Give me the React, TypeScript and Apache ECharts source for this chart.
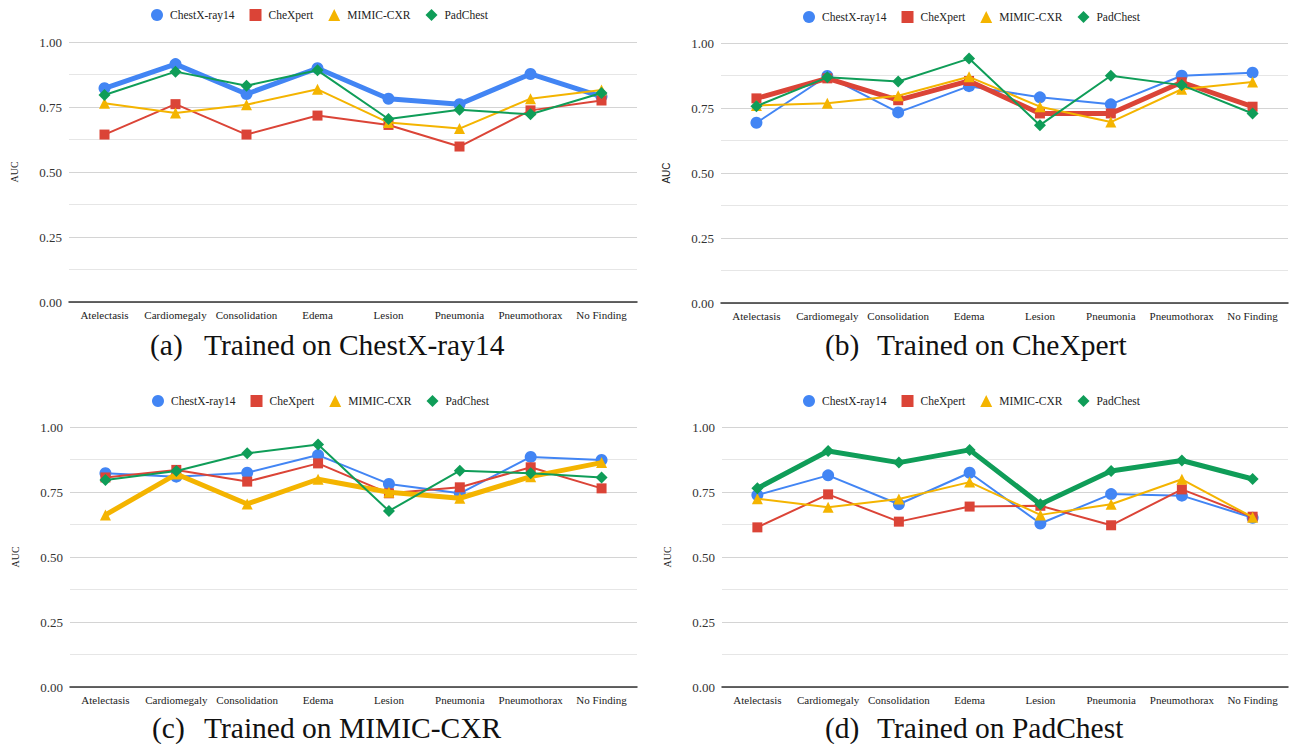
import React, { useEffect, useRef } from "react";
import * as echarts from "echarts";

// ---------- data ----------
const categories = [
  "Atelectasis",
  "Cardiomegaly",
  "Consolidation",
  "Edema",
  "Lesion",
  "Pneumonia",
  "Pneumothorax",
  "No Finding",
];
const testSets = ["ChestX-ray14", "CheXpert", "MIMIC-CXR", "PadChest"];
const yTickValues = [0, 0.25, 0.5, 0.75, 1.0];

// (a) Trained on ChestX-ray14
const aChestX = [0.822, 0.915, 0.8, 0.899, 0.782, 0.761, 0.877, 0.79];
const aCheXpert = [0.644, 0.761, 0.644, 0.717, 0.681, 0.598, 0.737, 0.775];
const aMimic = [0.764, 0.727, 0.759, 0.818, 0.69, 0.667, 0.782, 0.815];
const aPadChest = [0.796, 0.886, 0.832, 0.891, 0.704, 0.739, 0.722, 0.804];

// (b) Trained on CheXpert
const bChestX = [0.693, 0.873, 0.733, 0.834, 0.791, 0.764, 0.874, 0.886];
const bCheXpert = [0.787, 0.864, 0.78, 0.854, 0.729, 0.729, 0.849, 0.755];
const bMimic = [0.76, 0.768, 0.797, 0.87, 0.755, 0.696, 0.822, 0.85];
const bPadChest = [0.757, 0.868, 0.852, 0.94, 0.684, 0.874, 0.838, 0.729];

// (c) Trained on MIMIC-CXR
const cChestX = [0.822, 0.809, 0.824, 0.892, 0.781, 0.745, 0.885, 0.873];
const cCheXpert = [0.806, 0.835, 0.79, 0.86, 0.745, 0.768, 0.845, 0.764];
const cMimic = [0.662, 0.819, 0.704, 0.799, 0.749, 0.726, 0.809, 0.863];
const cPadChest = [0.796, 0.831, 0.899, 0.933, 0.677, 0.832, 0.822, 0.806];

// (d) Trained on PadChest
const dChestX = [0.738, 0.814, 0.703, 0.824, 0.629, 0.742, 0.736, 0.651];
const dCheXpert = [0.614, 0.741, 0.636, 0.694, 0.697, 0.622, 0.76, 0.655];
const dMimic = [0.724, 0.691, 0.723, 0.788, 0.662, 0.703, 0.799, 0.653];
const dPadChest = [0.764, 0.908, 0.863, 0.912, 0.703, 0.831, 0.871, 0.8];

const panelTags = ["(a)", "(b)", "(c)", "(d)"];
const panelTitles = [
  "Trained on ChestX-ray14",
  "Trained on CheXpert",
  "Trained on MIMIC-CXR",
  "Trained on PadChest",
];
const panelSeries = [
  [aChestX, aCheXpert, aMimic, aPadChest],
  [bChestX, bCheXpert, bMimic, bPadChest],
  [cChestX, cCheXpert, cMimic, cPadChest],
  [dChestX, dCheXpert, dMimic, dPadChest],
];
const highlighted = [0, 1, 2, 3];

// ---------- styling / layout ----------
const colors = ["#4285F4", "#DB4437", "#F4B400", "#0F9D58"];
const symbols = ["circle", "rect", "triangle", "diamond"];
const symbolSizes = [12, 10, 11, 12];
const SERIF = "Liberation Serif, Times New Roman, serif";
const SANS = "Liberation Sans, Arial, sans-serif";

const layout = [
  { left: 69, top: 42, width: 568, legendLeft: 146, legendTop: 4, tagX: 150, titleX: 204, capY: 347, aucFont: SERIF },
  { left: 721, top: 43, width: 567, legendLeft: 798, legendTop: 6, tagX: 825, titleX: 877, capY: 347, aucFont: SANS },
  { left: 70, top: 427, width: 567, legendLeft: 147, legendTop: 390, tagX: 152, titleX: 204, capY: 730, aucFont: SERIF },
  { left: 722, top: 427, width: 566, legendLeft: 798, legendTop: 390, tagX: 825, titleX: 877, capY: 730, aucFont: SERIF },
];
const PLOT_H = 260;

export default function App() {
  const ref = useRef<HTMLDivElement>(null);

  useEffect(() => {
    if (!ref.current) return;
    const chart = echarts.init(ref.current, null, { renderer: "svg" });

    const grids = layout.map((l) => ({
      left: l.left,
      top: l.top,
      width: l.width,
      height: PLOT_H,
      containLabel: false,
    }));

    const xAxes = layout.map((_, i) => ({
      type: "category",
      gridIndex: i,
      data: categories,
      boundaryGap: true,
      axisLine: { show: true, lineStyle: { color: "#333", width: 1.5 } },
      axisTick: { show: false },
      axisLabel: {
        interval: 0,
        margin: 7,
        fontFamily: SERIF,
        fontSize: 11,
        color: "#222",
      },
      splitLine: { show: false },
    }));

    const yAxes = layout.map((l, i) => ({
      type: "value",
      gridIndex: i,
      min: yTickValues[0],
      max: yTickValues[yTickValues.length - 1],
      interval: 0.25,
      name: "AUC",
      nameLocation: "middle",
      nameGap: 50,
      nameTextStyle: { fontFamily: l.aucFont, fontSize: 10, color: "#222" },
      axisLine: { show: false },
      axisTick: { show: false },
      axisLabel: {
        margin: 7,
        fontFamily: SERIF,
        fontSize: 13,
        color: "#333",
        formatter: (v: number) => v.toFixed(2),
      },
      splitLine: { show: true, lineStyle: { color: "#d4d4d4", width: 1 } },
      minorTick: { show: false, splitNumber: 2 },
      minorSplitLine: { show: true, lineStyle: { color: "#e6e6e6", width: 1 } },
    }));

    const series: any[] = [];
    panelSeries.forEach((sets, p) => {
      sets.forEach((vals, d) => {
        const thick = highlighted[p] === d;
        series.push({
          type: "line",
          name: testSets[d],
          xAxisIndex: p,
          yAxisIndex: p,
          data: vals,
          symbol: symbols[d],
          symbolSize: symbolSizes[d],
          showSymbol: true,
          lineStyle: { color: colors[d], width: thick ? 5 : 2 },
          itemStyle: { color: colors[d] },
          emphasis: { disabled: true },
          z: 2 + d,
        });
      });
    });

    const legends = layout.map((l) => ({
      left: l.legendLeft,
      top: l.legendTop,
      orient: "horizontal",
      itemWidth: 12,
      itemHeight: 12,
      itemGap: 15,
      selectedMode: false,
      textStyle: { fontFamily: SERIF, fontSize: 11.5, color: "#222", padding: [0, 0, 0, 2] },
      data: testSets.map((n, i) => ({ name: n, icon: symbols[i] })),
    }));

    const graphics: any[] = [];
    layout.forEach((l, i) => {
      graphics.push({
        type: "text",
        left: l.tagX,
        top: l.capY - 17,
        style: { text: panelTags[i], fontFamily: SERIF, fontSize: 29.5, fill: "#111" },
      });
      graphics.push({
        type: "text",
        left: l.titleX,
        top: l.capY - 17,
        style: { text: panelTitles[i], fontFamily: SERIF, fontSize: 29.5, fill: "#111" },
      });
    });

    chart.setOption({
      animation: false,
      backgroundColor: "#ffffff",
      grid: grids,
      xAxis: xAxes,
      yAxis: yAxes,
      legend: legends,
      series,
      graphic: graphics,
    });

    return () => chart.dispose();
  }, []);

  return (
    <div
      ref={ref}
      style={{ position: "absolute", left: 0, top: 0, width: 1290, height: 744, background: "#fff" }}
    />
  );
}
